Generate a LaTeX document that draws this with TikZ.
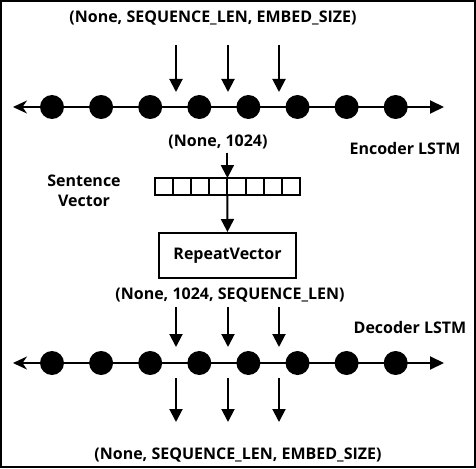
\documentclass[tikz,border=0pt]{standalone}
\usepackage{fontspec}
\setmainfont{Open Sans}
\usetikzlibrary{arrows.meta,positioning}

\begin{document}
\begin{tikzpicture}[x=1pt,y=-1pt,node distance=24.7pt,
  font=\bfseries\fontsize{16}{20}\selectfont]
\tikzset{
  dot/.style={circle,fill=black,minimum size=24pt,inner sep=0pt},
  cell/.style={draw,line width=2pt,minimum width=18.1pt,minimum height=17pt,inner sep=0pt,outer sep=0pt},
  flow/.style={-{Triangle[length=13pt,width=13pt]},line width=2pt},
  timeline/.style={{Stealth[length=14pt,width=13pt]}-{Triangle[length=14pt,width=13pt]},line width=2pt}
}
\useasboundingbox (0,0) rectangle (476,468);
\draw[line width=2pt] (1,1) rectangle (475,467);

% encoder
\node (inTop) at (213,18) {(None, SEQUENCE\_LEN, EMBED\_SIZE)};
\coordinate (eL) at (13,107);
\coordinate (eR) at (444,107);
\path[draw,timeline] (eL) -- (eR);
\node[dot] (e1) at (52,107) {};
\node[dot, right= of e1] (e2) {};
\node[dot, right= of e2] (e3) {};
\node[dot, right= of e3] (e4) {};
\node[dot, right= of e4] (e5) {};
\node[dot, right= of e5] (e6) {};
\node[dot, right= of e6] (e7) {};
\node[dot, right= of e7] (e8) {};
\coordinate (a1) at (176,45);  \coordinate (b1) at (176,92);
\coordinate (a2) at (228,45);  \coordinate (b2) at (228,92);
\coordinate (a3) at (279,45);  \coordinate (b3) at (279,92);
\path[draw,flow] (a1) -- (b1);
\path[draw,flow] (a2) -- (b2);
\path[draw,flow] (a3) -- (b3);
\node (n1024) at (218,142) {(None, 1024)};
\node (enc) at (405,148) {Encoder LSTM};

% sentence vector
\node[cell] (v1) at (164.05,186.5) {};
\node[cell, right=0pt of v1] (v2) {};
\node[cell, right=0pt of v2] (v3) {};
\node[cell, right=0pt of v3] (v4) {};
\node[cell, right=0pt of v4] (v5) {};
\node[cell, right=0pt of v5] (v6) {};
\node[cell, right=0pt of v6] (v7) {};
\node[cell, right=0pt of v7] (v8) {};
\node[align=center] (sv) at (84,191) {Sentence\\Vector};
\path[draw,flow] (n1024.south -| v4.north east) -- (v4.north east);
\node[draw,line width=2pt,minimum width=137pt,minimum height=45pt] (rv) at (227.5,255.5) {RepeatVector};
\path[draw,flow] (v4.south east) -- (rv);
\node (rvOut) at (230,295) {(None, 1024, SEQUENCE\_LEN)};

% decoder
\node (dec) at (410,327) {Decoder LSTM};
\coordinate (dL) at (13,363);
\coordinate (dR) at (444,363);
\path[draw,timeline] (dL) -- (dR);
\node[dot] (d1) at (52,363) {};
\node[dot, right= of d1] (d2) {};
\node[dot, right= of d2] (d3) {};
\node[dot, right= of d3] (d4) {};
\node[dot, right= of d4] (d5) {};
\node[dot, right= of d5] (d6) {};
\node[dot, right= of d6] (d7) {};
\node[dot, right= of d7] (d8) {};
\coordinate (c1) at (176,307);  \coordinate (f1) at (176,347);
\coordinate (c2) at (228,307);  \coordinate (f2) at (228,347);
\coordinate (c3) at (279,307);  \coordinate (f3) at (279,347);
\path[draw,flow] (c1) -- (f1);
\path[draw,flow] (c2) -- (f2);
\path[draw,flow] (c3) -- (f3);
\coordinate (g1) at (176,378);  \coordinate (h1) at (176,422);
\coordinate (g2) at (228,378);  \coordinate (h2) at (228,422);
\coordinate (g3) at (279,378);  \coordinate (h3) at (279,422);
\path[draw,flow] (g1) -- (h1);
\path[draw,flow] (g2) -- (h2);
\path[draw,flow] (g3) -- (h3);
\node (outBot) at (238,455) {(None, SEQUENCE\_LEN, EMBED\_SIZE)};
\end{tikzpicture}
\end{document}
